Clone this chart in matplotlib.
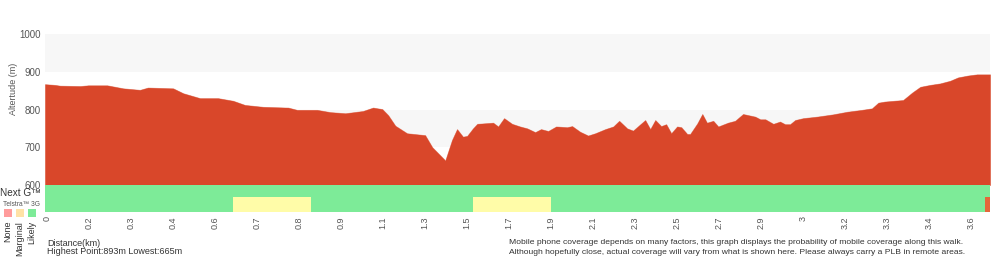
import matplotlib
matplotlib.use("Agg")
import matplotlib.pyplot as plt
from matplotlib.patches import Rectangle

plt.rcParams['font.family'] = ['Liberation Sans', 'DejaVu Sans']

# ---- data ----
# distance position (in tick-step units) and elevation (m)
dist = [-0.05, 0.19, 0.31, 0.79, 0.98, 1.43, 1.81, 2.21, 2.40, 3.00, 3.24, 3.64, 4.07, 4.43,
        4.71, 5.14, 5.74, 5.95, 6.43, 6.74, 7.10, 7.52, 7.76, 7.98, 8.12, 8.29, 8.57, 9.00,
        9.17, 9.48, 9.64, 9.76, 9.90, 10.00, 10.14, 10.24, 10.62, 10.74, 10.88, 11.07, 11.26,
        11.43, 11.62, 11.76, 11.93, 12.12, 12.38, 12.50, 12.69, 12.88, 13.05, 13.29, 13.48,
        13.62, 13.81, 13.95, 14.24, 14.36, 14.48, 14.62, 14.74, 14.86, 15.00, 15.10, 15.24,
        15.31, 15.48, 15.60, 15.71, 15.86, 15.98, 16.21, 16.38, 16.57, 16.86, 16.98, 17.10,
        17.29, 17.45, 17.57, 17.69, 17.81, 18.00, 18.33, 18.71, 19.05, 19.40, 19.64, 19.79,
        19.95, 20.38, 20.60, 20.79, 21.02, 21.26, 21.50, 21.69, 21.93, 22.14, 22.45]
elev = [867, 865, 863, 862, 864, 864, 856, 852, 858, 856, 843, 830, 830, 823,
        812, 807, 805, 799, 799, 793, 790, 796, 805, 801, 785, 757, 737, 732,
        700, 665, 719, 748, 728, 730, 750, 762, 765, 755, 777, 762, 755,
        750, 740, 748, 743, 755, 753, 756, 741, 731, 737, 748, 755,
        770, 750, 744, 772, 748, 772, 756, 761, 737, 755, 753, 735,
        735, 763, 788, 765, 770, 755, 765, 770, 788, 781, 774, 774,
        762, 768, 761, 761, 772, 777, 781, 787, 794, 799, 803, 818,
        821, 825, 845, 860, 865, 869, 876, 885, 890, 893, 893]

tick_labels = ['0', '0.2', '0.3', '0.4', '0.6', '0.7', '0.8', '0.9', '1.1', '1.3', '1.5',
               '1.7', '1.9', '2.1', '2.3', '2.5', '2.7', '2.9', '3', '3.2', '3.3', '3.4', '3.6']
y_ticks = [600, 700, 800, 900, 1000]

# coverage segments: (start, end, level)
nextg_segments = [(-0.05, 22.45, 'Likely')]
telstra_segments = [(-0.05, 4.43, 'Likely'), (4.43, 6.29, 'Marginal'), (6.29, 10.14, 'Likely'),
                    (10.14, 12.0, 'Marginal'), (12.0, 22.33, 'Likely'), (22.33, 22.45, 'None')]

highest = 893
lowest = 665

# ---- styling ----
RED = '#d9472a'
BAND = '#f7f7f7'
cov_colors = {'Likely': '#7deb98', 'Marginal': '#fffca8', 'None': '#e5673a'}
legend_colors = ['#ff9c9c', '#ffe2a6', '#7deb98']
legend_names = ['None', 'Marginal', 'Likely']

fig = plt.figure(figsize=(10, 2.6), dpi=100)
W, H = 1000, 260
x0, x1 = 45, 990
ytop, ybot = 34, 212
ax = fig.add_axes([x0 / W, 1 - ybot / H, (x1 - x0) / W, (ybot - ytop) / H])

m_per_px = 400 / (185 - 34)
ymin = 600 - (ybot - 185) * m_per_px
ax.set_xlim(-0.05, 22.45)
ax.set_ylim(ymin, 1000)

# alternating bands
ax.axhspan(900, 1000, color=BAND, lw=0, zorder=0)
ax.axhspan(700, 800, color=BAND, lw=0, zorder=0)

ax.fill_between(dist, elev, 600, color=RED, lw=0.6, edgecolor='#e9a090', zorder=2)
ax.fill_between(dist, elev, 600, color=RED, lw=0, zorder=3)

row_split = 600 - (197 - 185) * m_per_px
for s, e, lvl in nextg_segments:
    ax.add_patch(Rectangle((s, row_split), e - s, 600 - row_split, color=cov_colors[lvl], lw=0, zorder=4))
for s, e, lvl in telstra_segments:
    ax.add_patch(Rectangle((s, ymin), e - s, row_split - ymin, color=cov_colors[lvl], lw=0, zorder=4))

for sp in ax.spines.values():
    sp.set_visible(False)

ax.set_yticks(y_ticks)
ax.set_yticklabels([str(v) for v in y_ticks])
ax.tick_params(axis='y', length=0, pad=3, labelsize=7, labelcolor='#555555')
ax.set_xticks(range(len(tick_labels)))
ax.set_xticklabels(tick_labels, rotation=90)
ax.tick_params(axis='x', length=0, pad=3, labelsize=6.5, labelcolor='#555555')
for lbl in ax.get_xticklabels():
    lbl.set_verticalalignment('top')

fig.text(13 / W, 1 - 89 / H, 'Altertude (m)', rotation=90, ha='center', va='center',
         fontsize=6.5, color='#555555')

fig.text(0, 1 - 193 / H, 'Next G™', ha='left', va='center', fontsize=7.2, color='#333333')
fig.text(3 / W, 1 - 204 / H, 'Telstra™ 3G', ha='left', va='center', fontsize=4.8, color='#555555')
for i, (c, n) in enumerate(zip(legend_colors, legend_names)):
    cx = 8 + i * 12
    fig.patches.append(Rectangle(((cx - 4) / W, 1 - 217 / H), 8 / W, 8 / H, color=c, lw=0,
                                 transform=fig.transFigure, figure=fig))
    fig.text(cx / W, 1 - 221 / H, n, rotation=90, ha='center', va='top', fontsize=6.5, color='#333333')

fig.text(47 / W, 1 - 243 / H, 'Distance(km)', ha='left', va='center', fontsize=6.5, color='#333333')
fig.text(47 / W, 1 - 252 / H, f'Highest Point:{highest}m Lowest:{lowest}m', ha='left', va='center',
         fontsize=6.5, color='#333333')
fig.text(509 / W, 1 - 243 / H,
         'Mobile phone coverage depends on many factors, this graph displays the probability of mobile coverage along this walk.',
         ha='left', va='center', fontsize=6.1, color='#333333')
fig.text(509 / W, 1 - 252 / H,
         'Although hopefully close, actual coverage will vary from what is shown here. Please always carry a PLB in remote areas.',
         ha='left', va='center', fontsize=6.1, color='#333333')

fig.savefig('out.png', dpi=100)
